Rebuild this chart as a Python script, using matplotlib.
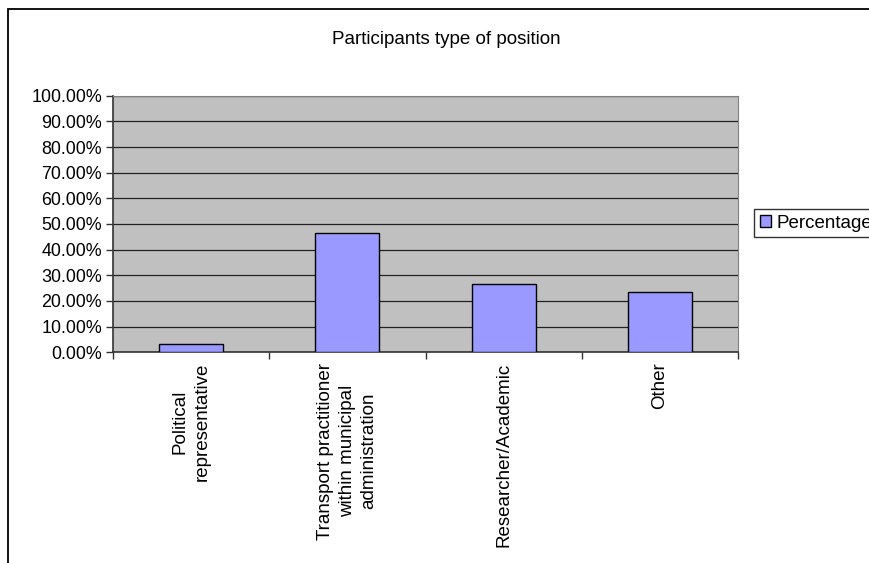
import matplotlib.pyplot as plt
from matplotlib.patches import Rectangle
from matplotlib.ticker import FuncFormatter, FixedLocator

plt.rcParams['font.family'] = ['Liberation Sans', 'DejaVu Sans']

categories = ['Political\nrepresentative',
              'Transport practitioner\nwithin municipal\nadministration',
              'Researcher/Academic',
              'Other']
percentages = [3.33, 46.67, 26.67, 23.33]
y_ticks = [0, 10, 20, 30, 40, 50, 60, 70, 80, 90, 100]

W, H = 869, 563
fig = plt.figure(figsize=(W / 100, H / 100), dpi=100)

# outer chart border (right and bottom edges fall outside the picture)
fig.patches.append(Rectangle((8 / W, -0.1), 1.2, 1 - 9 / H + 0.1,
                             transform=fig.transFigure, fill=False,
                             edgecolor='black', linewidth=1.3))

ax = fig.add_axes([113 / W, 1 - 352.3 / H, (738 - 113) / W, (352.3 - 95.7) / H])
ax.set_facecolor('#C0C0C0')

x = list(range(len(categories)))
ax.bar(x, percentages, width=0.41, color='#9999FF', edgecolor='black',
       linewidth=1.0, label='Percentage', zorder=3)

ax.set_xlim(-0.5, len(categories) - 0.5)
ax.set_ylim(0, 100)
ax.yaxis.set_major_locator(FixedLocator(y_ticks))
ax.yaxis.set_major_formatter(FuncFormatter(lambda v, p: '%.2f%%' % v))
ax.grid(axis='y', color='#222222', linewidth=0.9, zorder=1)

# category boundary ticks, labels centred in each category
ax.set_xticks([i - 0.5 for i in range(len(categories) + 1)])
ax.set_xticklabels([])
ax.tick_params(axis='x', which='major', direction='out', length=5,
               width=1, color='#333333')
ax.tick_params(axis='y', direction='out', length=5, width=1, color='#333333',
               labelsize=12.9, pad=3)
for i, c in enumerate(categories):
    ax.text(i, -4, c, rotation=90, ha='center', va='top', multialignment='center',
            fontsize=13.5, linespacing=1.35, transform=ax.transData, clip_on=False)

for s in ['top', 'right']:
    ax.spines[s].set_color('#808080')
for s in ['left', 'bottom']:
    ax.spines[s].set_color('#333333')
    ax.spines[s].set_linewidth(1.2)

fig.text(446 / W, 1 - 40 / H, 'Participants type of position', ha='center',
         va='center', fontsize=13.5)

leg = fig.legend(loc='center left', bbox_to_anchor=(754 / W, 1 - 223 / H),
                 frameon=True, fancybox=False, edgecolor='black', fontsize=13.5,
                 handlelength=0.6, handleheight=0.6, handletextpad=0.3,
                 borderpad=0.3, borderaxespad=0)
leg.get_frame().set_linewidth(1.0)

fig.savefig('out.png', dpi=100)
